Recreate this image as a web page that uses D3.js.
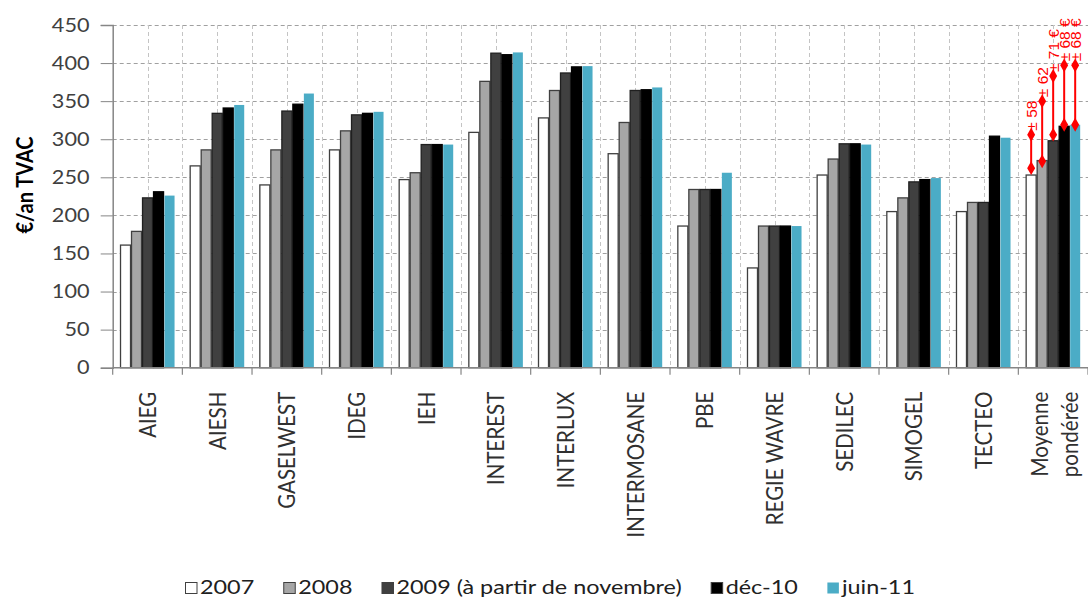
<!DOCTYPE html>
<html>
<head>
<meta charset="utf-8">
<script src="https://cdn.jsdelivr.net/npm/d3@7"></script>
<style>
  html, body { margin: 0; padding: 0; background: #fff; }
  svg { display: block; font-family: Lato, "Open Sans", sans-serif; }
</style>
</head>
<body>
<svg id="chart" width="1088" height="599"></svg>
<script>
// Distributors and yearly cost (€/an TVAC)
const categories = ["AIEG", "AIESH", "GASELWEST", "IDEG", "IEH", "INTEREST", "INTERLUX",
  "INTERMOSANE", "PBE", "REGIE WAVRE", "SEDILEC", "SIMOGEL", "TECTEO", "Moyenne\npondérée"];
const seriesNames = ["2007", "2008", "2009 (à partir de novembre)", "déc-10", "juin-11"];

const values2007 = [161, 265, 240, 286, 247, 309, 328, 281, 186, 131, 253, 205, 205, 253];
const values2008 = [179, 286, 286, 311, 256, 376, 364, 322, 234, 186, 274, 223, 217, 272];
const values2009 = [223, 334, 337, 332, 293, 413, 387, 364, 234, 186, 294, 244, 217, 298];
const valuesDec10 = [231, 341, 346, 334, 293, 411, 395, 365, 234, 186, 294, 247, 304, 317];
const valuesJun11 = [226, 345, 360, 336, 293, 414, 396, 368, 256, 186, 293, 249, 302, 319];

// Spread markers on the weighted average bars
const spreadLow = [262, 271, 306, 319, 319];
const spreadHigh = [306, 350, 383, 397, 397];
const spreadLabels = ["± 58", "± 62", "± 71 €", "± 68 €", "± 68 €"];

const yTicks = [0, 50, 100, 150, 200, 250, 300, 350, 400, 450];

const seriesValues = [values2007, values2008, values2009, valuesDec10, valuesJun11];
const fills = ["#ffffff", "#a6a6a6", "#404040", "#000000", "#4bacc6"];
const strokes = ["#404040", "#404040", "#202020", "#000000", "none"];

const svg = d3.select("#chart");
const plotLeft = 112.7, plotRight = 1088, plotTop = 25, plotBottom = 367.7;
const stretch = 1.17; // horizontal widening of the text glyphs

const y = d3.scaleLinear().domain([0, 450]).range([plotBottom, plotTop]);
const x0 = d3.scaleBand().domain(categories).range([plotLeft, plotRight])
  .paddingInner(0.21).paddingOuter(0.105);
const x1 = d3.scaleBand().domain(seriesNames).range([0, x0.bandwidth()]);
const step = x0.step();

// Gridlines: horizontal at each tick, vertical every half category
const grid = svg.append("g").attr("stroke", "#a0a0a0").attr("stroke-dasharray", "4,3").attr("stroke-width", 1);
grid.selectAll("line.h").data(yTicks.slice(1)).join("line").attr("class", "h")
  .attr("x1", plotLeft).attr("x2", plotRight)
  .attr("y1", d => Math.round(y(d)) + 0.5).attr("y2", d => Math.round(y(d)) + 0.5);
grid.selectAll("line.v").data(d3.range(1, categories.length * 2)).join("line").attr("class", "v")
  .attr("stroke", "#c4c4c4")
  .attr("x1", i => Math.round(plotLeft + i * step / 2) + 0.5).attr("x2", i => Math.round(plotLeft + i * step / 2) + 0.5)
  .attr("y1", plotTop).attr("y2", plotBottom);

// Bars
const rows = categories.map((c, i) => ({ cat: c, vals: seriesValues.map(s => s[i]) }));
const groups = svg.append("g").selectAll("g").data(rows).join("g")
  .attr("transform", d => `translate(${x0(d.cat)},0)`);
groups.selectAll("rect").data(d => d.vals.map((v, k) => ({ v, k }))).join("rect")
  .attr("x", d => x1(seriesNames[d.k]) + 0.5)
  .attr("width", x1.bandwidth() - 1)
  .attr("y", d => y(d.v))
  .attr("height", d => plotBottom - y(d.v))
  .attr("fill", d => fills[d.k])
  .attr("stroke", d => strokes[d.k])
  .attr("stroke-width", 1.3);

// Y axis: line and ticks from the axis generator, labels placed on the same scale
const yAxis = svg.append("g").attr("transform", `translate(${plotLeft},0)`)
  .call(d3.axisLeft(y).tickValues(yTicks).tickSize(12).tickFormat(""));
yAxis.select(".domain").attr("stroke", "#868686").attr("stroke-width", 1.5);
yAxis.selectAll(".tick line").attr("stroke", "#868686");
svg.append("g").selectAll("text").data(yTicks).join("text")
  .attr("transform", d => `translate(89.5,${y(d)}) scale(${stretch},1)`)
  .attr("text-anchor", "end").attr("dy", "0.36em")
  .attr("fill", "#404040").style("font-size", "18.5px")
  .text(d => d);

// X axis
const xAxisG = svg.append("g");
xAxisG.append("line").attr("x1", plotLeft).attr("x2", plotRight).attr("y1", plotBottom).attr("y2", plotBottom)
  .attr("stroke", "#868686").attr("stroke-width", 1.5);
xAxisG.selectAll("line.t").data(d3.range(0, categories.length + 1)).join("line").attr("class", "t")
  .attr("x1", i => plotLeft + i * step).attr("x2", i => plotLeft + i * step)
  .attr("y1", plotBottom).attr("y2", plotBottom + 7).attr("stroke", "#868686").attr("stroke-width", 1.2);

const xLabels = xAxisG.selectAll("text").data(categories).join("text")
  .attr("transform", d => `translate(${x0(d) + x0.bandwidth() / 2},${plotBottom + 24}) rotate(-90) scale(1,${stretch})`)
  .attr("text-anchor", "end")
  .attr("fill", "#303030")
  .style("font-size", "20.5px");
xLabels.each(function (d) {
  const lines = d.split("\n");
  const t = d3.select(this);
  lines.forEach((ln, j) => {
    t.append("tspan").attr("x", 0)
      .attr("dy", lines.length === 1 ? "0.35em" : (j === 0 ? "-0.21em" : "1.24em"))
      .text(ln);
  });
});

// Y axis title
svg.append("text")
  .attr("transform", `translate(33,185) rotate(-90) scale(1,${stretch})`)
  .attr("text-anchor", "middle")
  .attr("fill", "#000").style("font-size", "20px").style("font-weight", "bold")
  .text("€/an TVAC");

// Spread markers on the last category
const lastCat = categories[categories.length - 1];
const spread = svg.append("g");
spreadLabels.forEach((lab, k) => {
  const cx = x0(lastCat) + x1(seriesNames[k]) + x1.bandwidth() / 2;
  spread.append("line").attr("x1", cx).attr("x2", cx)
    .attr("y1", y(spreadLow[k])).attr("y2", y(spreadHigh[k]))
    .attr("stroke", "#ff0000").attr("stroke-width", 2);
  [spreadLow[k], spreadHigh[k]].forEach(v => {
    spread.append("path").attr("d", d3.symbol(d3.symbolDiamond, 55)())
      .attr("transform", `translate(${cx},${y(v)})`).attr("fill", "#ff0000");
  });
  spread.append("text")
    .attr("transform", `translate(${cx},${y(spreadHigh[k]) - 4}) rotate(-90)`)
    .attr("text-anchor", "start").attr("dy", "0.36em")
    .attr("fill", "#ff0000").style("font-size", "15.5px")
    .style("font-family", "'Liberation Sans', Arial, sans-serif")
    .text(lab);
});

// Legend
const legend = svg.append("g").attr("transform", "translate(0,593.5)");
const items = [];
seriesNames.forEach((name, k) => {
  const g = legend.append("g");
  g.append("rect").attr("x", 0.5).attr("y", -11).attr("width", 11.5).attr("height", 11)
    .attr("fill", fills[k]).attr("stroke", k === 4 ? "none" : "#404040").attr("stroke-width", 1);
  const t = g.append("text").attr("transform", `translate(15,0) scale(${stretch},1)`)
    .attr("fill", "#202020").style("font-size", "20px").text(name);
  const w = 15 + t.node().getComputedTextLength() * stretch;
  items.push({ g, w });
});
const legendStart = 185, legendEnd = 915;
const gap = (legendEnd - legendStart - d3.sum(items, d => d.w)) / (items.length - 1);
let lx = legendStart;
items.forEach(it => { it.g.attr("transform", `translate(${lx},0)`); lx += it.w + gap; });
</script>
</body>
</html>
